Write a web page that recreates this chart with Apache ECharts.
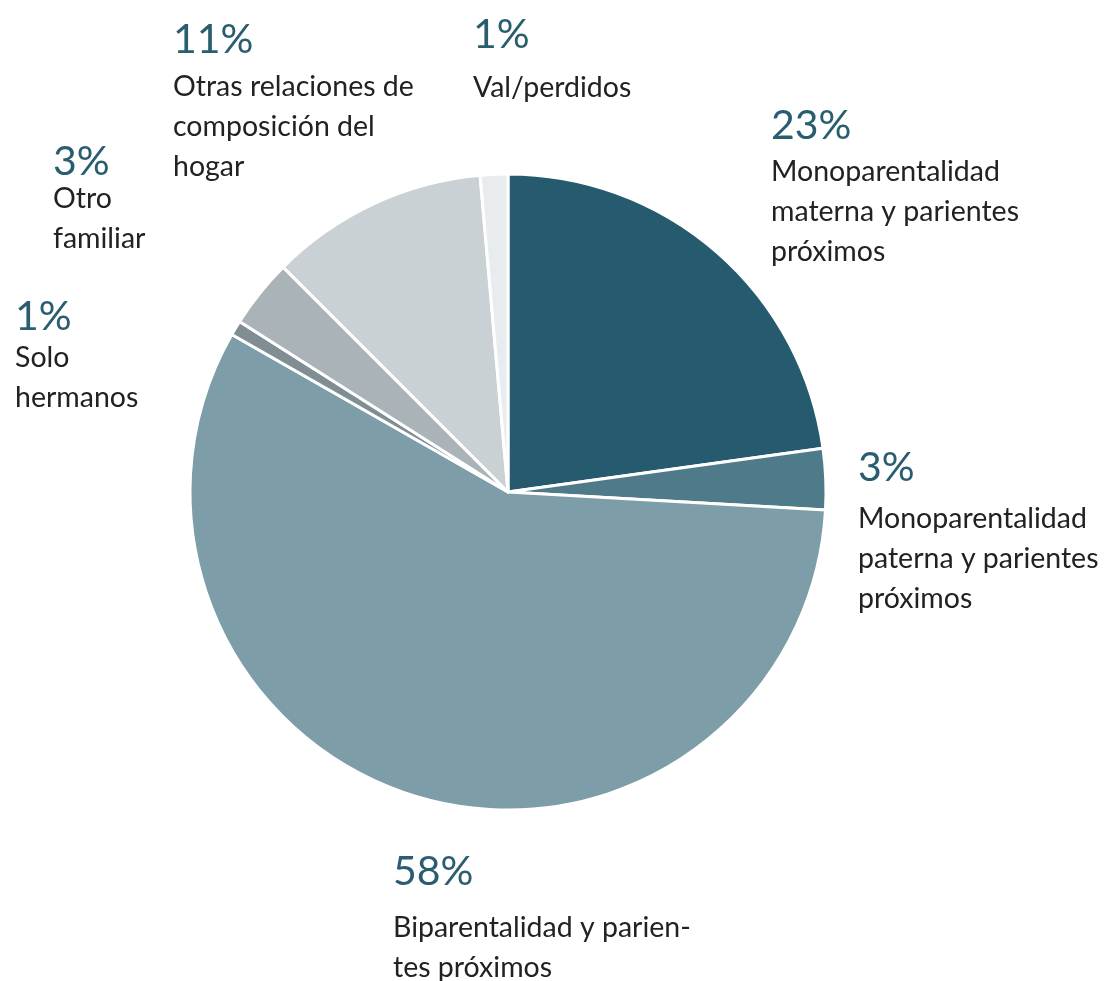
<!DOCTYPE html>
<html>
<head>
<meta charset="utf-8">
<script src="https://cdn.jsdelivr.net/npm/echarts@6/dist/echarts.min.js"></script>
<style>
  html, body { margin: 0; padding: 0; background: #fff; }
  #chart { width: 1109px; height: 981px; }
</style>
</head>
<body>
<div id="chart"></div>
<script>
// datos del gráfico (sentido horario desde las 12)
const categories = [
  'Monoparentalidad\nmaterna y parientes\npróximos',
  'Monoparentalidad\npaterna y parientes\npróximos',
  'Biparentalidad y parien-\ntes próximos',
  'Solo\nhermanos',
  'Otro\nfamiliar',
  'Otras relaciones de\ncomposición del\nhogar',
  'Val/perdidos'
]
const values = [22.8, 3.1, 57.35, 0.75, 3.5, 11.1, 1.4]
const pctLabels = ['23%', '3%', '58%', '1%', '3%', '11%', '1%']

const colors = ['#265a6e', '#4f7a89', '#7d9ea8', '#808e93', '#a9b3b8', '#cad1d4', '#e9ecee']

// posición de cada etiqueta (esquina sup. izq.) y alto de línea del porcentaje
const labelPos = [[771, 100], [858, 437], [393, 836], [15, 296], [53, 145], [173, 13], [473, 2]]
const pctLineH = [52, 62, 72, 42, 34, 54, 66]

let chart = echarts.init(document.getElementById('chart'))

let option = {
  animation: false,
  series: [{
    type: 'pie',
    center: [508, 492],
    radius: 318,
    startAngle: 90,
    clockwise: true,
    itemStyle: {
      borderColor: '#fff',
      borderWidth: 3
    },
    labelLine: { show: false },
    label: {
      show: true,
      position: 'outside',
      align: 'left',
      overflow: 'none',
      width: 400
    },
    labelLayout: function (params) {
      let p = labelPos[params.dataIndex]
      return { x: p[0], y: p[1], align: 'left', verticalAlign: 'top', hideOverlap: false }
    },
    data: values.map(function (v, i) {
      let lines = categories[i].split('\n').map(function (s) { return '{n|' + s + '}' }).join('\n')
      return {
        value: v,
        name: categories[i],
        itemStyle: { color: colors[i] },
        label: {
          formatter: '{p|' + pctLabels[i] + '}\n' + lines,
          overflow: 'none',
          rich: {
            p: {
              fontFamily: 'Lato',
              fontSize: 41,
              color: '#2a5d70',
              lineHeight: pctLineH[i]
            },
            n: {
              fontFamily: 'Lato',
              fontSize: 28.5,
              color: '#222',
              lineHeight: 40
            }
          }
        }
      }
    })
  }]
}
chart.setOption(option)
</script>
</body>
</html>
